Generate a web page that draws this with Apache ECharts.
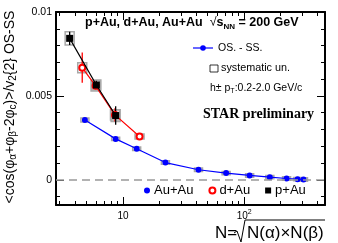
<!DOCTYPE html>
<html>
<head>
<meta charset="utf-8">
<script src="https://cdn.jsdelivr.net/npm/echarts@6/dist/echarts.min.js"></script>
<style>
html,body{margin:0;padding:0;background:#fff;}
#c{width:338px;height:243px;}
</style>
</head>
<body>
<div id="c"></div>
<script>
// ---- data ----
const xAuAu = [4.85, 8.7, 12.97, 22.4, 42, 71, 111, 163, 224, 276, 309];
const yAuAu = [0.00357, 0.00244, 0.00185, 0.00103, 0.0006, 0.0004, 0.00026, 0.00016, 0.00008, 0.00004, 0.00002];
const statAuAu = [0.0001, 0.00008, 0.00008, 0.00006, 0.00006, 0.00005, 0.00005, 0.00005, 0.00004, 0.00004, 0.00004];
const sysAuAu = [0.00012, 0.0001, 0.0001, 0.0001, 0.0001, 0.0001, 0.0001, 0.0001, 0.0001, 0.0001, 0.0001];

const xdAu = [4.61, 5.94, 8.59, 13.7];
const ydAu = [0.00668, 0.0056, 0.00387, 0.00258];
const statdAu = [0.0009, 0.0002, 0.0004, 0.0001];
const sysdAu = [0.0003, 0.0003, 0.0003, 0.00015];

const xpAu = [3.63, 6.03, 8.7];
const ypAu = [0.00843, 0.00565, 0.00383];
const statpAu = [0.0004, 0.00025, 0.00055];
const syspAu = [0.0004, 0.0003, 0.00035];

const yMajorTicks = [0, 0.005, 0.01];
const yTickLabels = ['0', '0.005', '0.01'];
const yMinorTicks = [-0.001, 0.001, 0.002, 0.003, 0.004, 0.006, 0.007, 0.008, 0.009];
const xMajorTicks = [10, 100];
const xTickLabels = ['10', '10{sup|2}'];
const xMinorTicks = [3, 4, 5, 6, 7, 8, 9, 20, 30, 40, 50, 60, 70, 80, 90, 200, 300, 400];

const X_MIN = 2.8, X_MAX = 465, Y_MIN = -0.0015, Y_MAX = 0.01;
const FONT = '"Liberation Sans", Arial, sans-serif';

// ---- helpers ----
function pts(xs, ys) { return xs.map((x, i) => [x, ys[i]]); }
function errPts(xs, ys, es) { return xs.map((x, i) => [x, ys[i], es[i]]); }

function sysSeries(xs, ys, es, w) {
  return {
    type: 'custom', xAxisIndex: 0, yAxisIndex: 0, z: 1, silent: true,
    data: errPts(xs, ys, es),
    renderItem: function (params, api) {
      const x = api.value(0), y = api.value(1), e = api.value(2);
      const c = api.coord([x, y]);
      const t = api.coord([x, y + e])[1];
      const b = api.coord([x, y - e])[1];
      return { type: 'rect', shape: { x: c[0] - w / 2, y: t, width: w, height: b - t },
        style: { fill: 'none', stroke: '#a8a8a8', lineWidth: 1.5 } };
    }
  };
}
function statSeries(xs, ys, es, color) {
  return {
    type: 'custom', xAxisIndex: 0, yAxisIndex: 0, z: 2, silent: true,
    data: errPts(xs, ys, es),
    renderItem: function (params, api) {
      const x = api.value(0), y = api.value(1), e = api.value(2);
      const c = api.coord([x, y]);
      const t = api.coord([x, y + e])[1];
      const b = api.coord([x, y - e])[1];
      return { type: 'line', shape: { x1: c[0], y1: t, x2: c[0], y2: b },
        style: { stroke: color, lineWidth: 1.3 } };
    }
  };
}

const chart = echarts.init(document.getElementById('c'), null, { renderer: 'canvas' });

const blank = { show: false };
function xAx(pos, ticks, len, showLine, labels) {
  return {
    type: 'log', logBase: 10, min: X_MIN, max: X_MAX, position: pos,
    axisLine: { show: showLine, onZero: false, lineStyle: { color: '#000', width: 2 } },
    axisTick: { show: true, inside: true, length: len, customValues: ticks, lineStyle: { color: '#000', width: 1 } },
    axisLabel: labels ? {
      show: true, customValues: xMajorTicks, margin: 4, color: '#000', fontFamily: FONT, fontSize: 10,
      formatter: function (v) { const i = xMajorTicks.findIndex(t => Math.abs(t - v) < 1e-6 * t); return i >= 0 ? xTickLabels[i] : ''; },
      rich: { sup: { fontSize: 7, lineHeight: 7, verticalAlign: 'top', fontFamily: FONT, color: '#000' } },
      lineHeight: 14
    } : blank,
    splitLine: blank, minorTick: blank, minorSplitLine: blank
  };
}
function yAx(pos, ticks, len, showLine, labels) {
  return {
    type: 'value', min: Y_MIN, max: Y_MAX, position: pos,
    axisLine: { show: showLine, onZero: false, lineStyle: { color: '#000', width: 2 } },
    axisTick: { show: true, inside: true, length: len, customValues: ticks, lineStyle: { color: '#000', width: 1 } },
    axisLabel: labels ? {
      show: true, customValues: yMajorTicks, margin: 4, color: '#000', fontFamily: FONT, fontSize: 10.5,
      formatter: function (v) { const i = yMajorTicks.findIndex(t => Math.abs(t - v) < 1e-9); return i >= 0 ? yTickLabels[i] : ''; }
    } : blank,
    splitLine: blank, minorTick: blank, minorSplitLine: blank
  };
}

const option = {
  animation: false,
  backgroundColor: '#fff',
  grid: { left: 56, top: 12, right: 13, bottom: 38, outerBoundsMode: 'none', containLabel: false },
  xAxis: [
    xAx('bottom', xMajorTicks, 8, true, true),
    xAx('bottom', xMinorTicks, 4, false, false),
    xAx('top', xMajorTicks, 8, true, false),
    xAx('top', xMinorTicks, 4, false, false)
  ],
  yAxis: [
    yAx('left', yMajorTicks, 8, true, true),
    yAx('left', yMinorTicks, 4, false, false),
    yAx('right', yMajorTicks, 8, true, false),
    yAx('right', yMinorTicks, 4, false, false)
  ],
  legend: {
    left: 139, top: 179, orient: 'horizontal', itemWidth: 6, itemHeight: 6, itemGap: 15,
    textStyle: { fontFamily: FONT, fontSize: 13, color: '#000', padding: [0, 0, 0, -1] },
    selectedMode: false,
    data: [
      { name: 'Au+Au', icon: 'circle' },
      { name: 'd+Au', icon: 'emptyCircle' },
      { name: 'p+Au', icon: 'rect' }
    ]
  },
  series: [
    sysSeries(xAuAu, yAuAu, sysAuAu, 8),
    sysSeries(xdAu, ydAu, sysdAu, 9),
    sysSeries(xpAu, ypAu, syspAu, 9),
    statSeries(xAuAu, yAuAu, statAuAu, '#0000ff'),
    statSeries(xdAu, ydAu, statdAu, '#ff0000'),
    statSeries(xpAu, ypAu, statpAu, '#000000'),
    {
      name: 'Au+Au', type: 'line', xAxisIndex: 0, yAxisIndex: 0, z: 3,
      data: pts(xAuAu, yAuAu), symbol: 'circle', symbolSize: 6,
      itemStyle: { color: '#0000ff' }, lineStyle: { color: '#0000ff', width: 1.2 },
      markLine: {
        silent: true, symbol: 'none', label: { show: false }, animation: false,
        lineStyle: { color: '#999', type: [8, 5], width: 1.5 },
        data: [{ yAxis: 0 }]
      }
    },
    {
      name: 'd+Au', type: 'line', xAxisIndex: 0, yAxisIndex: 0, z: 4,
      data: pts(xdAu, ydAu), symbol: 'emptyCircle', symbolSize: 6,
      itemStyle: { color: '#ff0000', borderColor: '#ff0000', borderWidth: 1.1 }, lineStyle: { color: '#ff0000', width: 1.2 }
    },
    {
      name: 'p+Au', type: 'line', xAxisIndex: 0, yAxisIndex: 0, z: 5,
      data: pts(xpAu, ypAu), symbol: 'rect', symbolSize: 7,
      itemStyle: { color: '#000000' }, lineStyle: { color: '#000000', width: 1.2 }
    }
  ],
  graphic: [
    // title
    { type: 'text', x: 85, y: 23, z: 10, silent: true,
      style: { text: '{b|p+Au, d+Au, Au+Au  }{r|√}{b|s}{sub|NN}{b| = 200 GeV}', align: 'left', verticalAlign: 'middle',
        rich: {
          b: { fontFamily: FONT, fontWeight: 'bold', fontSize: 12.5, lineHeight: 15, fill: '#000' },
          r: { fontFamily: FONT, fontSize: 12.5, lineHeight: 15, fill: '#000' },
          sub: { fontFamily: FONT, fontWeight: 'bold', fontSize: 8, lineHeight: 10, verticalAlign: 'bottom', fill: '#000' }
        } } },
    // OS - SS legend entry
    { type: 'line', silent: true, z: 10, shape: { x1: 193, y1: 48, x2: 213, y2: 48 }, style: { stroke: '#0000ff', lineWidth: 1.2 } },
    { type: 'circle', silent: true, z: 10, shape: { cx: 203, cy: 48, r: 2.8 }, style: { fill: '#0000ff' } },
    { type: 'text', silent: true, z: 10, x: 218, y: 48,
      style: { text: 'OS. - SS.', fontFamily: FONT, fontSize: 10.5, fill: '#000', verticalAlign: 'middle', align: 'left' } },
    // systematic box
    { type: 'rect', silent: true, z: 10, shape: { x: 210, y: 65, width: 8, height: 7 }, style: { fill: 'none', stroke: '#000', lineWidth: 0.8 } },
    { type: 'text', silent: true, z: 10, x: 221, y: 68,
      style: { text: 'systematic un.', fontFamily: FONT, fontSize: 10.8, fill: '#000', verticalAlign: 'middle', align: 'left' } },
    // pT range
    { type: 'text', silent: true, z: 10, x: 210, y: 88,
      style: { text: 'h± p{s|T}:0.2-2.0 GeV/c', verticalAlign: 'middle', align: 'left',
        fontFamily: FONT, fontSize: 10.5, fill: '#000', lineHeight: 14,
        rich: { s: { fontFamily: FONT, fontSize: 7, lineHeight: 7, verticalAlign: 'bottom', fill: '#000' } } } },
    // STAR preliminary
    { type: 'text', silent: true, z: 10, x: 203, y: 114,
      style: { text: 'STAR preliminary', fontFamily: '"Liberation Serif", "Times New Roman", serif', fontWeight: 'bold', fontSize: 14, fill: '#000', verticalAlign: 'middle', align: 'left' } },
    // y axis title
    { type: 'text', silent: true, z: 10, x: 10, y: 107, rotation: Math.PI / 2,
      style: { text: '<cos(φ{s|α}+φ{s|β}-2φ{s|c})>/v{s|2}{2} OS-SS', align: 'center', verticalAlign: 'middle',
        fontFamily: FONT, fontSize: 14, lineHeight: 17, fill: '#000',
        rich: { s: { fontFamily: FONT, fontSize: 10, lineHeight: 10, verticalAlign: 'bottom', fill: '#000' } } } },
    // x axis title
    { type: 'text', silent: true, z: 10, x: 215, y: 233,
      style: { text: 'N=', fontFamily: FONT, fontSize: 17, fill: '#000', verticalAlign: 'middle', align: 'left' } },
    { type: 'polyline', silent: true, z: 10, shape: { points: [[234, 233], [237, 231], [241, 242], [245, 220], [325, 220]] },
      style: { stroke: '#000', lineWidth: 1, fill: 'none' } },
    { type: 'text', silent: true, z: 10, x: 247, y: 233,
      style: { text: 'N(α)×N(β)', fontFamily: FONT, fontSize: 17, fill: '#000', verticalAlign: 'middle', align: 'left' } }
  ]
};
chart.setOption(option);
</script>
</body>
</html>
